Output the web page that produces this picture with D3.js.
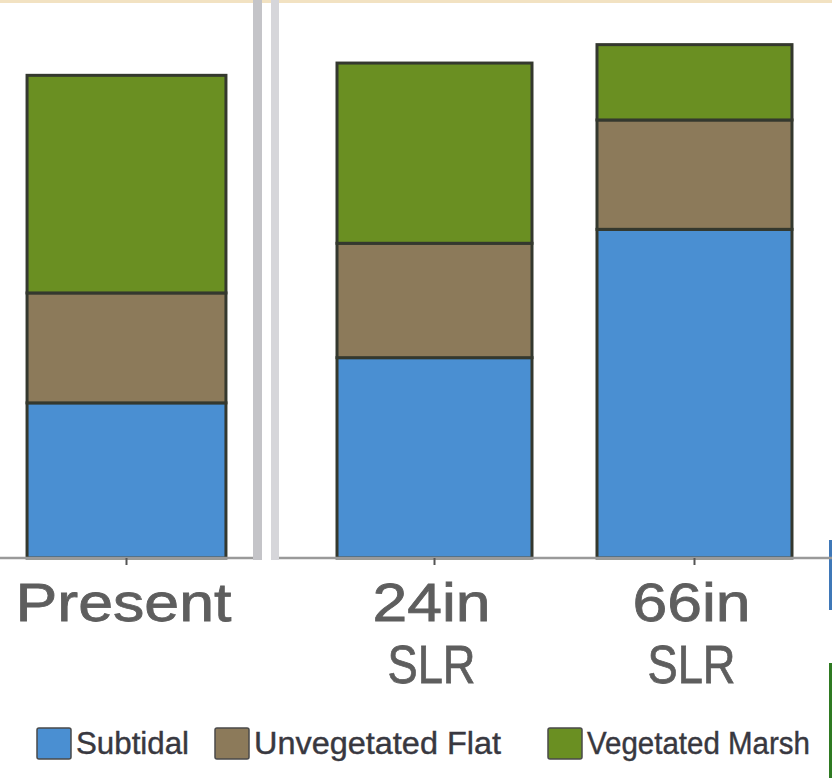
<!DOCTYPE html>
<html>
<head>
<meta charset="utf-8">
<script src="https://cdn.jsdelivr.net/npm/d3@7"></script>
<style>
  html, body { margin: 0; padding: 0; background: #ffffff; }
  svg { display: block; }
  text { font-family: "Liberation Sans", Arimo, Arial, Helvetica, sans-serif; }
</style>
</head>
<body>
<svg id="chart" width="832" height="778"></svg>
<script>
// Habitat area by scenario (share of plotted range)
const presentCategories = ["Present"];
const futureCategories = ["24in SLR", "66in SLR"];
const categories = presentCategories.concat(futureCategories);
const habitats = ["Subtidal", "Unvegetated Flat", "Vegetated Marsh"];
const subtidal = [27.8, 35.9, 58.9];
const unvegetatedFlat = [19.7, 20.5, 19.6];
const vegetatedMarsh = [39.0, 32.3, 13.5];
const yTicks = [0, 100];

const colors = { "Subtidal": "#4a8fd2", "Unvegetated Flat": "#8c7a5a", "Vegetated Marsh": "#6a8f22" };

const svg = d3.select("#chart");
const W = 832, H = 778;
const baseY = 558;

// frame edges
svg.append("rect").attr("x", 0).attr("y", 0).attr("width", W).attr("height", 3).attr("fill", "#f2e2c2");
svg.append("rect").attr("x", 829).attr("y", 540).attr("width", 3).attr("height", 70).attr("fill", "#3f78b8");
svg.append("rect").attr("x", 829).attr("y", 663).attr("width", 3).attr("height", 115).attr("fill", "#2f7a22");

const y = d3.scaleLinear().domain([yTicks[0], yTicks[1]]).range([baseY, 0]);

// two panels: Present on the left, the sea level rise scenarios on the right
const xLeft = d3.scaleBand().domain(presentCategories).range([0, 253]).paddingInner(0).paddingOuter(0.136);
const xRight = d3.scaleBand().domain(futureCategories).range([277, 852]).paddingInner(0.25).paddingOuter(0.2308);
const xOf = c => presentCategories.includes(c) ? xLeft(c) : xRight(c);
const bw = c => presentCategories.includes(c) ? xLeft.bandwidth() : xRight.bandwidth();

// panel divider
svg.append("rect").attr("x", 253).attr("y", 0).attr("width", 9).attr("height", baseY + 2).attr("fill", "#c4c4c8");
svg.append("rect").attr("x", 271).attr("y", 0).attr("width", 8).attr("height", baseY + 2).attr("fill", "#d6d6da");

// stacked data
const rows = categories.map((c, i) => ({
  category: c,
  "Subtidal": subtidal[i],
  "Unvegetated Flat": unvegetatedFlat[i],
  "Vegetated Marsh": vegetatedMarsh[i]
}));
const stack = d3.stack().keys(habitats)(rows);

const layers = svg.append("g").selectAll("g").data(stack).join("g")
  .attr("fill", d => colors[d.key]);
layers.selectAll("rect").data(d => d).join("rect")
  .attr("x", d => xOf(d.data.category))
  .attr("width", d => bw(d.data.category))
  .attr("y", d => y(d[1]))
  .attr("height", d => y(d[0]) - y(d[1]))
  .attr("stroke", "#34382e")
  .attr("stroke-width", 3);

// baseline axes for each panel
const axisG = svg.append("g");
axisG.append("line").attr("x1", 0).attr("x2", 253).attr("y1", baseY).attr("y2", baseY)
  .attr("stroke", "#9a9a9a").attr("stroke-width", 2.5);
axisG.append("line").attr("x1", 279).attr("x2", 832).attr("y1", baseY).attr("y2", baseY)
  .attr("stroke", "#9a9a9a").attr("stroke-width", 2.5);
categories.forEach(c => {
  const cx = xOf(c) + bw(c) / 2;
  axisG.append("line").attr("x1", cx).attr("x2", cx).attr("y1", baseY).attr("y2", baseY + 7)
    .attr("stroke", "#555").attr("stroke-width", 2);
});

// category labels
const labelLines = { "Present": ["Present"], "24in SLR": ["24in", "SLR"], "66in SLR": ["66in", "SLR"] };
const labelWidths = { "Present": 216, "24in": 118, "66in": 118, "SLR": 88 };
categories.forEach(c => {
  const cx = xOf(c) + bw(c) / 2 - 3;
  labelLines[c].forEach((t, j) => {
    svg.append("text")
      .attr("x", cx).attr("y", 621 + j * 62)
      .attr("text-anchor", "middle")
      .attr("font-size", 54)
      .attr("fill", "#5e5e5e")
      .attr("stroke", "#5e5e5e")
      .attr("stroke-width", 0.8)
      .attr("textLength", labelWidths[t])
      .attr("lengthAdjust", "spacingAndGlyphs")
      .text(t);
  });
});

// legend
const legendX = [37, 215, 548];
const legendTextW = [113, 247, 223];
const legend = svg.append("g");
habitats.forEach((h, i) => {
  legend.append("rect")
    .attr("x", legendX[i]).attr("y", 728).attr("width", 34).attr("height", 31)
    .attr("rx", 2)
    .attr("fill", colors[h]).attr("stroke", "#4a4a4a").attr("stroke-width", 1.5);
  legend.append("text")
    .attr("x", legendX[i] + 39).attr("y", 754)
    .attr("font-size", 31)
    .attr("fill", "#383840")
    .attr("stroke", "#383840")
    .attr("stroke-width", 0.4)
    .attr("textLength", legendTextW[i])
    .attr("lengthAdjust", "spacingAndGlyphs")
    .text(h);
});
</script>
</body>
</html>
